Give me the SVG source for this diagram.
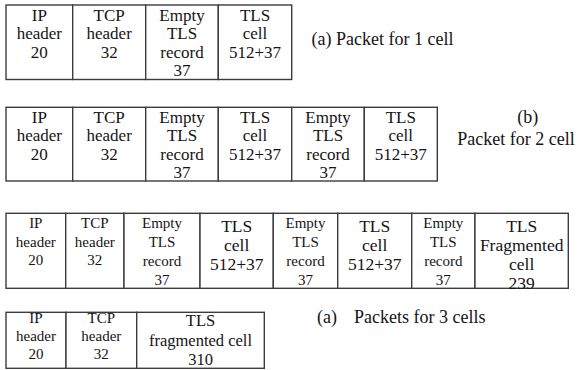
<svg xmlns="http://www.w3.org/2000/svg" width="577" height="370" viewBox="0 0 577 370">
  <style>
    .cell { fill: #ffffff; stroke: #3c3c3c; stroke-width: 1.4; }
    text { font-family: "Liberation Serif", "Times New Roman", serif; fill: #141414; }
    .c { text-anchor: middle; }
    .f17 { font-size: 17px; }
    .f15 { font-size: 15px; }
    .f175 { font-size: 17.5px; }
    .f165 { font-size: 16.5px; }
    .lbl { font-size: 18px; }
  </style>
  <rect width="577" height="370" fill="#ffffff"/>

  <!-- Packet for 1 cell -->
  <g id="p1">
    <g id="p1-ip">
      <rect class="cell" x="6" y="5" width="66.7" height="74.5"/>
      <text class="c f17"><tspan x="39.3" y="20.5">IP</tspan><tspan x="39.3" y="39">header</tspan><tspan x="39.3" y="57.5">20</tspan></text>
    </g>
    <g id="p1-tcp">
      <rect class="cell" x="72.7" y="5" width="73" height="74.5"/>
      <text class="c f17"><tspan x="109.2" y="20.5">TCP</tspan><tspan x="109.2" y="39">header</tspan><tspan x="109.2" y="57.5">32</tspan></text>
    </g>
    <g id="p1-empty">
      <rect class="cell" x="145.7" y="5" width="72.6" height="74.5"/>
      <text class="c f17"><tspan x="182" y="20.5">Empty</tspan><tspan x="182" y="39">TLS</tspan><tspan x="182" y="57.5">record</tspan><tspan x="182" y="76">37</tspan></text>
    </g>
    <g id="p1-cell">
      <rect class="cell" x="218.3" y="5" width="73.4" height="74.5"/>
      <text class="c f17"><tspan x="255" y="20.5">TLS</tspan><tspan x="255" y="39">cell</tspan><tspan x="255" y="57.5">512+37</tspan></text>
    </g>
    <text id="p1-label" class="lbl" x="311.5" y="45">(a) Packet for 1 cell</text>
  </g>

  <!-- Packet for 2 cells -->
  <g id="p2">
    <g id="p2-ip">
      <rect class="cell" x="6" y="107.3" width="66.7" height="73.7"/>
      <text class="c f17"><tspan x="39.3" y="122.7">IP</tspan><tspan x="39.3" y="141.2">header</tspan><tspan x="39.3" y="159.7">20</tspan></text>
    </g>
    <g id="p2-tcp">
      <rect class="cell" x="72.7" y="107.3" width="73" height="73.7"/>
      <text class="c f17"><tspan x="109.2" y="122.7">TCP</tspan><tspan x="109.2" y="141.2">header</tspan><tspan x="109.2" y="159.7">32</tspan></text>
    </g>
    <g id="p2-empty1">
      <rect class="cell" x="145.7" y="107.3" width="72.6" height="73.7"/>
      <text class="c f17"><tspan x="182" y="122.7">Empty</tspan><tspan x="182" y="141.2">TLS</tspan><tspan x="182" y="159.7">record</tspan><tspan x="182" y="178.2">37</tspan></text>
    </g>
    <g id="p2-cell1">
      <rect class="cell" x="218.3" y="107.3" width="73.4" height="73.7"/>
      <text class="c f17"><tspan x="255" y="122.7">TLS</tspan><tspan x="255" y="141.2">cell</tspan><tspan x="255" y="159.7">512+37</tspan></text>
    </g>
    <g id="p2-empty2">
      <rect class="cell" x="291.7" y="107.3" width="72.6" height="73.7"/>
      <text class="c f17"><tspan x="328" y="122.7">Empty</tspan><tspan x="328" y="141.2">TLS</tspan><tspan x="328" y="159.7">record</tspan><tspan x="328" y="178.2">37</tspan></text>
    </g>
    <g id="p2-cell2">
      <rect class="cell" x="364.3" y="107.3" width="73" height="73.7"/>
      <text class="c f17"><tspan x="400.8" y="122.7">TLS</tspan><tspan x="400.8" y="141.2">cell</tspan><tspan x="400.8" y="159.7">512+37</tspan></text>
    </g>
    <g id="p2-label">
      <text class="lbl" x="517.3" y="123.3">(b)</text>
      <text class="lbl" x="457.3" y="145">Packet for 2 cell</text>
    </g>
  </g>

  <!-- Packets for 3 cells: first packet -->
  <g id="p3a">
    <g id="p3a-ip">
      <rect class="cell" x="6" y="213.3" width="59.7" height="75"/>
      <text class="c f15"><tspan x="35.8" y="228">IP</tspan><tspan x="35.8" y="246.5">header</tspan><tspan x="35.8" y="265">20</tspan></text>
    </g>
    <g id="p3a-tcp">
      <rect class="cell" x="65.7" y="213.3" width="58.3" height="75"/>
      <text class="c f15"><tspan x="94.8" y="228">TCP</tspan><tspan x="94.8" y="246.5">header</tspan><tspan x="94.8" y="265">32</tspan></text>
    </g>
    <g id="p3a-empty1">
      <rect class="cell" x="124" y="213.3" width="76" height="75"/>
      <text class="c f15"><tspan x="162" y="228">Empty</tspan><tspan x="162" y="247">TLS</tspan><tspan x="162" y="266">record</tspan><tspan x="162" y="285">37</tspan></text>
    </g>
    <g id="p3a-cell1">
      <rect class="cell" x="200" y="213.3" width="73.3" height="75"/>
      <text class="c f175"><tspan x="236.7" y="232">TLS</tspan><tspan x="236.7" y="251">cell</tspan><tspan x="236.7" y="270">512+37</tspan></text>
    </g>
    <g id="p3a-empty2">
      <rect class="cell" x="273.3" y="213.3" width="64.4" height="75"/>
      <text class="c f15"><tspan x="305.5" y="228">Empty</tspan><tspan x="305.5" y="247">TLS</tspan><tspan x="305.5" y="266">record</tspan><tspan x="305.5" y="285">37</tspan></text>
    </g>
    <g id="p3a-cell2">
      <rect class="cell" x="337.7" y="213.3" width="74" height="75"/>
      <text class="c f175"><tspan x="374.7" y="232">TLS</tspan><tspan x="374.7" y="251">cell</tspan><tspan x="374.7" y="270">512+37</tspan></text>
    </g>
    <g id="p3a-empty3">
      <rect class="cell" x="411.7" y="213.3" width="63.3" height="75"/>
      <text class="c f15"><tspan x="443.3" y="228">Empty</tspan><tspan x="443.3" y="247">TLS</tspan><tspan x="443.3" y="266">record</tspan><tspan x="443.3" y="285">37</tspan></text>
    </g>
    <g id="p3a-frag">
      <rect class="cell" x="475" y="213.3" width="93.3" height="75"/>
      <text class="c f175"><tspan x="521.7" y="232">TLS</tspan><tspan x="521.7" y="251">Fragmented</tspan><tspan x="521.7" y="270">cell</tspan><tspan x="521.7" y="289">239</tspan></text>
    </g>
  </g>

  <!-- Packets for 3 cells: second packet -->
  <g id="p3b">
    <g id="p3b-ip">
      <rect class="cell" x="6" y="312.3" width="60" height="56"/>
      <text class="c f15"><tspan x="36" y="323">IP</tspan><tspan x="36" y="341">header</tspan><tspan x="36" y="359">20</tspan></text>
    </g>
    <g id="p3b-tcp">
      <rect class="cell" x="66" y="312.3" width="70.7" height="56"/>
      <text class="c f15"><tspan x="101.3" y="323">TCP</tspan><tspan x="101.3" y="341">header</tspan><tspan x="101.3" y="359">32</tspan></text>
    </g>
    <g id="p3b-frag">
      <rect class="cell" x="136.7" y="312.3" width="127.6" height="56"/>
      <text class="c f165"><tspan x="200.5" y="326">TLS</tspan><tspan x="200.5" y="345.5">fragmented cell</tspan><tspan x="200.5" y="365">310</tspan></text>
    </g>
    <text id="p3-label" class="lbl" x="317" y="323.3">(a)<tspan x="354">Packets for 3 cells</tspan></text>
  </g>

  <g id="connectors"/>
</svg>
